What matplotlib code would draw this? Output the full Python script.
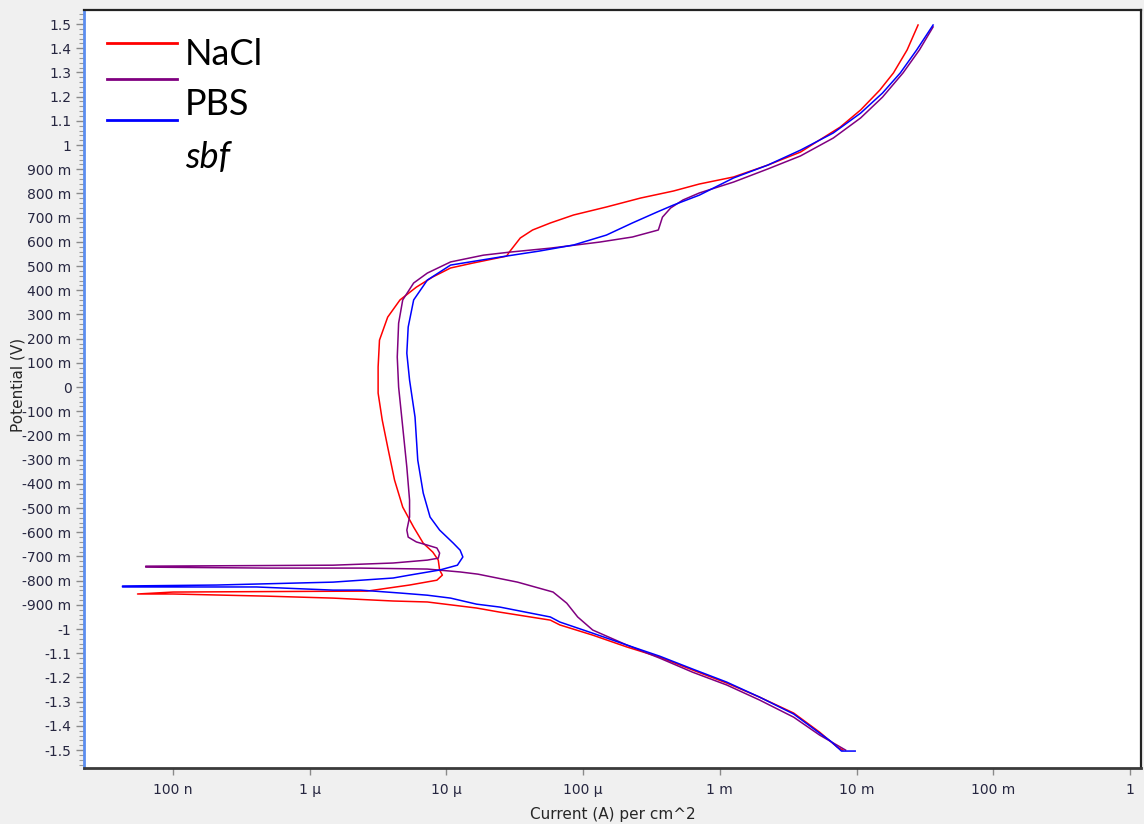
import numpy as np
import matplotlib
matplotlib.use("Agg")
import matplotlib.pyplot as plt
from matplotlib.ticker import FixedLocator, FuncFormatter, MultipleLocator, NullLocator
from matplotlib.lines import Line2D

# ---------------- data ----------------
# potentials in V, currents as log10(A per cm^2); scan order from -1.5 V upward
nacl_E = [-1.500, -1.488, -1.426, -1.347, -1.281, -1.223, -1.169, -1.116, -1.074, -1.025,
          -0.983, -0.963, -0.930, -0.913, -0.888, -0.884, -0.872, -0.864, -0.855, -0.855,
          -0.847, -0.843, -0.818, -0.798, -0.777, -0.756, -0.715, -0.682, -0.645, -0.579,
          -0.496, -0.384, -0.248, -0.136, -0.025, 0.083, 0.194, 0.289, 0.360, 0.413,
          0.455, 0.492, 0.512, 0.541, 0.558, 0.616, 0.649, 0.678, 0.711, 0.744,
          0.781, 0.810, 0.839, 0.868, 0.917, 0.971, 1.021, 1.074, 1.145, 1.227,
          1.298, 1.393, 1.496]
nacl_logI = [-2.10, -2.14, -2.27, -2.46, -2.71, -2.95, -3.20, -3.44, -3.68, -3.93,
             -4.17, -4.24, -4.61, -4.78, -5.14, -5.39, -5.83, -6.31, -7.00, -7.26,
             -7.00, -5.58, -5.27, -5.07, -5.03, -5.05, -5.06, -5.10, -5.17, -5.24,
             -5.32, -5.38, -5.43, -5.47, -5.50, -5.50, -5.49, -5.43, -5.34, -5.22,
             -5.10, -4.97, -4.81, -4.56, -4.54, -4.46, -4.37, -4.24, -4.07, -3.83,
             -3.58, -3.34, -3.15, -2.90, -2.65, -2.41, -2.27, -2.12, -1.97, -1.83,
             -1.73, -1.63, -1.55]

pbs_E = [-1.500, -1.438, -1.364, -1.293, -1.231, -1.178, -1.120, -1.066, -1.004, -0.950,
         -0.893, -0.847, -0.806, -0.773, -0.764, -0.752, -0.748, -0.748, -0.744,
         -0.740, -0.736, -0.727, -0.715, -0.707, -0.686, -0.665, -0.653, -0.640, -0.620,
         -0.591, -0.537, -0.467, -0.331, -0.165, 0.000, 0.124, 0.264, 0.360, 0.430,
         0.471, 0.517, 0.545, 0.558, 0.574, 0.599, 0.620, 0.649, 0.702, 0.740,
         0.773, 0.802, 0.847, 0.901, 0.955, 1.029, 1.112, 1.198, 1.298, 1.393, 1.488]
pbs_logI = [-2.08, -2.27, -2.46, -2.71, -2.95, -3.20, -3.44, -3.68, -3.93, -4.04,
            -4.12, -4.22, -4.48, -4.77, -4.90, -5.14, -5.63, -6.31, -7.20,
            -7.20, -5.83, -5.39, -5.14, -5.06, -5.05, -5.07, -5.14, -5.22, -5.28,
            -5.29, -5.27, -5.27, -5.29, -5.32, -5.35, -5.36, -5.35, -5.32, -5.24,
            -5.14, -4.97, -4.73, -4.53, -4.24, -3.88, -3.64, -3.45, -3.42, -3.36,
            -3.27, -3.15, -2.90, -2.65, -2.41, -2.17, -1.97, -1.81, -1.66, -1.54, -1.44]

sbf_E = [-1.504, -1.504, -1.463, -1.430, -1.351, -1.281, -1.219, -1.165, -1.112, -1.066,
         -1.017, -0.971, -0.950, -0.909, -0.897, -0.872, -0.860, -0.851, -0.839, -0.839,
         -0.826, -0.826,
         -0.822, -0.818, -0.806, -0.789, -0.777, -0.756, -0.736, -0.702, -0.674, -0.645,
         -0.591, -0.537, -0.438, -0.302, -0.124, 0.029, 0.140, 0.248, 0.360, 0.442,
         0.504, 0.537, 0.562, 0.587, 0.628, 0.678, 0.723, 0.752, 0.793, 0.864,
         0.917, 0.979, 1.050, 1.132, 1.215, 1.298, 1.393, 1.496]
sbf_logI = [-2.01, -2.11, -2.19, -2.27, -2.46, -2.71, -2.95, -3.20, -3.44, -3.68,
            -3.93, -4.17, -4.24, -4.61, -4.78, -4.97, -5.14, -5.34, -5.63, -5.83,
            -6.39, -7.37,
            -7.37, -6.68, -5.83, -5.39, -5.27, -5.05, -4.92, -4.88, -4.90, -4.95,
            -5.05, -5.12, -5.17, -5.21, -5.23, -5.27, -5.29, -5.28, -5.24, -5.14,
            -4.97, -4.61, -4.32, -4.07, -3.83, -3.64, -3.46, -3.34, -3.15, -2.90,
            -2.65, -2.41, -2.17, -1.97, -1.81, -1.68, -1.56, -1.44]

series_names = ["NaCl", "PBS", "sbf"]
series_colors = ["#ff0000", "#800080", "#0000ff"]

x_tick_exponents = [-7, -6, -5, -4, -3, -2, -1, 0]
x_tick_labels = ["100 n", "1 µ", "10 µ", "100 µ", "1 m", "10 m", "100 m", "1"]

# ---------------- figure ----------------
fig = plt.figure(figsize=(11.44, 8.24), dpi=100, facecolor="#f0f0f0")
ax = fig.add_axes([84 / 1144, 1 - 768 / 824, (1141 - 84) / 1144, (768 - 10) / 824])
ax.set_facecolor("white")

for E, lg, c in zip([nacl_E, pbs_E, sbf_E], [nacl_logI, pbs_logI, sbf_logI], series_colors):
    ax.plot(10.0 ** np.array(lg), E, color=c, lw=1.1, solid_joinstyle="round")

ax.set_xscale("log")
ax.set_xlim(2.23e-8, 1.205)
ax.set_ylim(-1.574, 1.558)

# x ticks
ax.xaxis.set_major_locator(FixedLocator([10.0 ** e for e in x_tick_exponents]))
ax.xaxis.set_minor_locator(NullLocator())
ax.set_xticklabels(x_tick_labels)

# y ticks
def yfmt(v, pos):
    v = round(v, 3)
    if abs(v) < 1e-9:
        return "0"
    if abs(v) >= 1 - 1e-9:
        return "%g" % round(v, 1)
    return "%d m" % int(round(v * 1000))

ax.yaxis.set_major_locator(MultipleLocator(0.1))
ax.yaxis.set_minor_locator(MultipleLocator(0.02))
ax.yaxis.set_major_formatter(FuncFormatter(yfmt))

for lab in ax.get_xticklabels() + ax.get_yticklabels():
    lab.set_fontfamily("DejaVu Sans")
    lab.set_fontsize(10)
    lab.set_color("#262640")

ax.tick_params(axis="y", which="major", length=6, width=1, color="#8a8a8a", pad=3, direction="out")
ax.tick_params(axis="y", which="minor", length=3.5, width=0.8, color="#9a9a9a", direction="out")
ax.tick_params(axis="x", which="major", length=5, width=1, color="#8a8a8a", pad=6, direction="out")

# spines
ax.spines["left"].set_color("#5b8def")
ax.spines["left"].set_linewidth(2)
ax.spines["bottom"].set_color("#3a3a3a")
ax.spines["bottom"].set_linewidth(2)
ax.spines["top"].set_color("#222222")
ax.spines["top"].set_linewidth(1.6)
ax.spines["right"].set_color("#222222")
ax.spines["right"].set_linewidth(1.6)

# axis labels
fig.text(18 / 1144, 1 - 385 / 824, "Potential (V)", rotation=90, ha="center", va="center",
         fontsize=11, family="DejaVu Sans", color="#262626")
fig.text(613 / 1144, 1 - 814 / 824, "Current (A) per cm^2", ha="center", va="center",
         fontsize=11, family="DejaVu Sans", color="#262626")

# legend (swatches and labels placed like the reference)
swatch_y = [0.9569, 0.909, 0.855]
for yy, c in zip(swatch_y, series_colors):
    ax.add_line(Line2D([0.0218, 0.088], [yy, yy], transform=ax.transAxes, color=c, lw=2.0))
label_y = [0.9274, 0.8615, 0.7916]
for yy, name in zip(label_y, series_names):
    ax.text(0.0956, yy, name, transform=ax.transAxes, ha="left", va="baseline",
            fontsize=26, family="Lato", color="black",
            style="italic" if name == "sbf" else "normal")

fig.savefig("out.png", dpi=100, facecolor=fig.get_facecolor())
